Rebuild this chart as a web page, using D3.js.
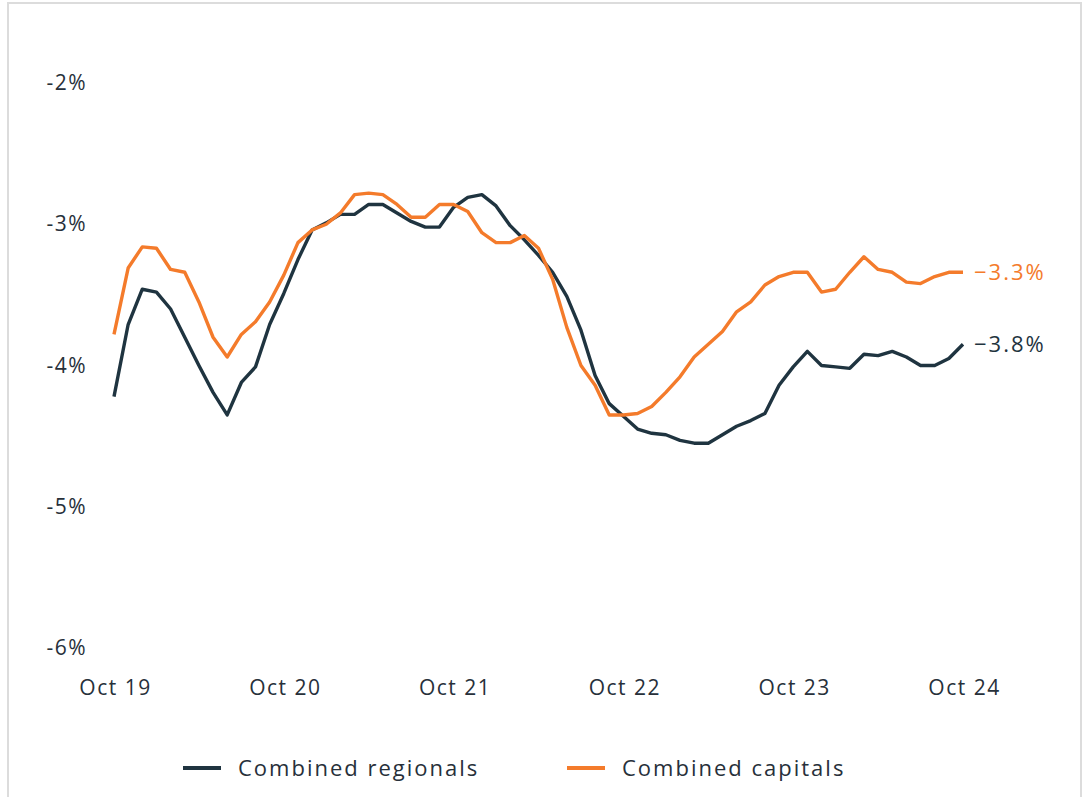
<!DOCTYPE html>
<html>
<head>
<meta charset="utf-8">
<script src="https://cdn.jsdelivr.net/npm/d3@7"></script>
<style>
  html, body { margin: 0; padding: 0; background: #fff; }
  svg { display: block; }
  text { font-family: "Open Sans", "Noto Sans", sans-serif; fill: #27303a; letter-spacing: 1.5px; }
</style>
</head>
<body>
<svg id="chart" width="1088" height="797"></svg>
<script>
// ---- data ----
const monthLabels = d3.range(61).map(i => {
  const d = new Date(2019, 9 + i, 1);
  return d3.timeFormat("%b %y")(d);
});
const xTickLabels = ["Oct 19", "Oct 20", "Oct 21", "Oct 22", "Oct 23", "Oct 24"];
const yTicks = [-2, -3, -4, -5, -6];
const seriesNames = ["Combined regionals", "Combined capitals"];
const regionals = [
  -4.22, -3.71, -3.46, -3.48, -3.60, -3.80, -4.00, -4.19, -4.35, -4.12,
  -4.01, -3.71, -3.49, -3.25, -3.04, -2.99, -2.93, -2.93, -2.86, -2.86,
  -2.92, -2.98, -3.02, -3.02, -2.88, -2.81, -2.79, -2.87, -3.01, -3.11,
  -3.22, -3.34, -3.51, -3.75, -4.07, -4.27, -4.36, -4.45, -4.48, -4.49,
  -4.53, -4.55, -4.55, -4.49, -4.43, -4.39, -4.34, -4.14, -4.01, -3.90,
  -4.00, -4.01, -4.02, -3.92, -3.93, -3.90, -3.94, -4.00, -4.00, -3.95,
  -3.85
];
const capitals = [
  -3.78, -3.31, -3.16, -3.17, -3.32, -3.34, -3.55, -3.80, -3.94, -3.78,
  -3.69, -3.55, -3.36, -3.13, -3.04, -3.00, -2.92, -2.79, -2.78, -2.79,
  -2.86, -2.95, -2.95, -2.86, -2.86, -2.91, -3.06, -3.13, -3.13, -3.08,
  -3.17, -3.39, -3.73, -4.00, -4.14, -4.35, -4.35, -4.34, -4.29, -4.19,
  -4.08, -3.94, -3.85, -3.76, -3.62, -3.55, -3.43, -3.37, -3.34, -3.34,
  -3.48, -3.46, -3.34, -3.23, -3.32, -3.34, -3.41, -3.42, -3.37, -3.34,
  -3.34
];
const endLabels = ["−3.8%", "−3.3%"];
const colors = ["#1f3440", "#f47b2b"];

// ---- drawing ----
const svg = d3.select("#chart");

svg.append("rect")
  .attr("x", 8).attr("y", 3)
  .attr("width", 1073).attr("height", 800)
  .attr("fill", "#fff")
  .attr("stroke", "#dcdcdc")
  .attr("stroke-width", 2);

const x = d3.scaleLinear().domain([0, monthLabels.length - 1]).range([114, 963]);
const y = d3.scaleLinear().domain([-6, -2]).range([648, 83]);

// y axis labels
const yAxis = d3.axisLeft(y).tickValues(yTicks).tickSize(0).tickPadding(0)
  .tickFormat(d => d3.format(".0f")(d).replace("−", "-") + "%");
const gy = svg.append("g").attr("transform", "translate(87,0)").call(yAxis);
gy.select(".domain").remove();
gy.selectAll("text")
  .attr("text-anchor", "end")
  .style("font-size", "21px")
  .style("font-family", "'Open Sans', sans-serif")
  .attr("fill", "#27303a");

// x axis labels
const xTickIdx = xTickLabels.map(l => monthLabels.indexOf(l));
const xAxis = d3.axisBottom(x).tickValues(xTickIdx).tickSize(0).tickPadding(0)
  .tickFormat(d => monthLabels[d]);
const gx = svg.append("g").attr("transform", "translate(1,680)").call(xAxis);
gx.select(".domain").remove();
gx.selectAll("text")
  .style("font-size", "21px")
  .style("font-family", "'Open Sans', sans-serif")
  .attr("fill", "#27303a");

// lines
const line = d3.line().x((d, i) => x(i)).y(d => y(d));
const allSeries = [regionals, capitals];
allSeries.forEach((s, k) => {
  svg.append("path")
    .datum(s)
    .attr("fill", "none")
    .attr("stroke", colors[k])
    .attr("stroke-width", 3.4)
    .attr("stroke-linejoin", "round")
    .attr("d", line);
  svg.append("text")
    .attr("x", x(s.length - 1) + 11)
    .attr("y", y(s[s.length - 1]))
    .attr("dy", "0.35em")
    .style("font-size", "22px")
    .style("letter-spacing", "2px")
    .style("fill", colors[k])
    .text(endLabels[k]);
});

// legend
const legendX = [183, 567];
seriesNames.forEach((name, k) => {
  svg.append("line")
    .attr("x1", legendX[k]).attr("x2", legendX[k] + 38)
    .attr("y1", 768).attr("y2", 768)
    .attr("stroke", colors[k]).attr("stroke-width", 4);
  svg.append("text")
    .attr("x", legendX[k] + 55)
    .attr("y", 768)
    .attr("dy", "0.35em")
    .style("font-size", "22px")
    .style("letter-spacing", "2px")
    .text(name);
});
</script>
</body>
</html>
